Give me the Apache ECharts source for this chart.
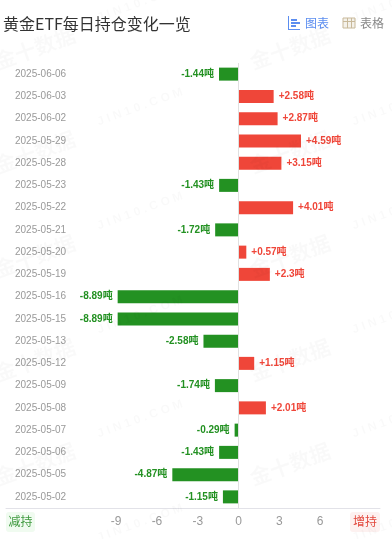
<!DOCTYPE html>
<html>
<head>
<meta charset="utf-8">
<style>html,body{margin:0;padding:0;background:#fff}#c{width:392px;height:539px}</style>
<script src="https://cdn.jsdelivr.net/npm/echarts@6/dist/echarts.min.js"></script>
</head>
<body>
<div id="c"></div>
<script>
const dates = ['2025-06-06','2025-06-03','2025-06-02','2025-05-29','2025-05-28','2025-05-23','2025-05-22','2025-05-21','2025-05-20','2025-05-19','2025-05-16','2025-05-15','2025-05-13','2025-05-12','2025-05-09','2025-05-08','2025-05-07','2025-05-06','2025-05-05','2025-05-02'];
const changes = [-1.44,2.58,2.87,4.59,3.15,-1.43,4.01,-1.72,0.57,2.3,-8.89,-8.89,-2.58,1.15,-1.74,2.01,-0.29,-1.43,-4.87,-1.15];
const xTicks = [-9,-6,-3,0,3,6];
const titleText = '黄金ETF每日持仓变化一览';
const unit = '吨';
const GREEN = '#239122', RED = '#ef4639';
const SANS = '"Liberation Sans", Arial, "Noto Sans CJK SC", sans-serif';
const CJK = '"Noto Sans CJK SC", sans-serif';

const chart = echarts.init(document.getElementById('c'), null, {renderer:'canvas'});

const marks = [];
[48,152,256,360,464].forEach(y => [35,290].forEach(x => marks.push({
  type:'text', x, y, rotation:20*Math.PI/180, z:50, silent:true,
  style:{text:'金十数据', font:'bold 21px '+CJK, fill:'rgba(0,0,0,0.025)', align:'center', verticalAlign:'middle'}
})));
[3,107,211,315,419,523].forEach(y => [140,395].forEach(x => marks.push({
  type:'text', x, y, rotation:20*Math.PI/180, z:50, silent:true,
  style:{text:'J I N 1 0 . C O M', font:'bold 12px '+SANS, fill:'rgba(0,0,0,0.025)', align:'center', verticalAlign:'middle'}
})));

const blue = '#5b8df0';
const badge = (x, w, fill, color, text) => [
  {type:'rect', z:5, shape:{x, y:512, width:w, height:20, r:3}, style:{fill}},
  {type:'text', z:6, x:x+w/2, y:521, style:{text, font:'12px '+CJK, fill:color, align:'center', verticalAlign:'middle'}}
];
const r = (x,y,w,h,fill) => ({type:'rect', z:5, shape:{x,y,width:w,height:h}, style:{fill}});

const ui = [
  {type:'text', z:6, x:3, y:24, style:{text:titleText, font:'16px '+CJK, fill:'#333', align:'left', verticalAlign:'middle'}},
  r(288,16,1,14,blue), r(288,29,12,1,blue), r(291,19,6,2,blue), r(291,22,9,2,blue), r(291,25,5,2,blue),
  {type:'text', z:6, x:305, y:23, style:{text:'图表', font:'12px '+CJK, fill:blue, align:'left', verticalAlign:'middle'}},
  {type:'rect', z:5, shape:{x:343,y:18,width:12,height:10}, style:{fill:'#f4f1ea', stroke:'#c8b99a', lineWidth:1}},
  r(343,21,12,1,'#c8b99a'), r(347,18,1,10,'#c8b99a'), r(351,18,1,10,'#c8b99a'),
  {type:'text', z:6, x:360, y:23, style:{text:'表格', font:'12px '+CJK, fill:'#888', align:'left', verticalAlign:'middle'}},
  ...badge(6,29,'#f0fbf0','#3f9a3f','减持'),
  ...badge(350,30,'#fdf1f0','#e2483d','增持')
];

chart.setOption({
  animation:false,
  backgroundColor:'#fff',
  grid:{left:6, right:12, top:63, bottom:31, containLabel:false},
  xAxis:{
    type:'value', min:-17.1, max:10.4, position:'bottom',
    axisLine:{show:true, onZero:false, lineStyle:{color:'#e2e2e8', width:1}},
    axisTick:{show:false}, splitLine:{show:false},
    axisLabel:{customValues:xTicks, color:'#999', fontSize:12, fontFamily:SANS, margin:8}
  },
  yAxis:{
    type:'category', data:dates, inverse:true, position:'left',
    axisLine:{show:false}, axisTick:{show:false}, splitLine:{show:false},
    axisLabel:{inside:true, margin:9, color:'#999', fontSize:10, fontFamily:SANS, align:'left'}
  },
  series:[{
    type:'bar', barWidth:13,
    data:changes.map(v => ({
      value:v,
      itemStyle:{color: v<0 ? GREEN : RED},
      label:{show:true, position: v<0 ? 'left' : 'right', distance:5, color: v<0 ? GREEN : RED,
             fontSize:10, fontWeight:'bold', fontFamily:SANS,
             formatter:(v<0 ? '' : '+') + v + unit}
    })),
    markLine:{silent:true, symbol:'none', label:{show:false}, animation:false,
      lineStyle:{color:'#e0e0e0', width:1, type:'solid'}, data:[{xAxis:0}]}
  }],
  graphic:{elements:[...ui, ...marks]}
});
</script>
</body>
</html>
